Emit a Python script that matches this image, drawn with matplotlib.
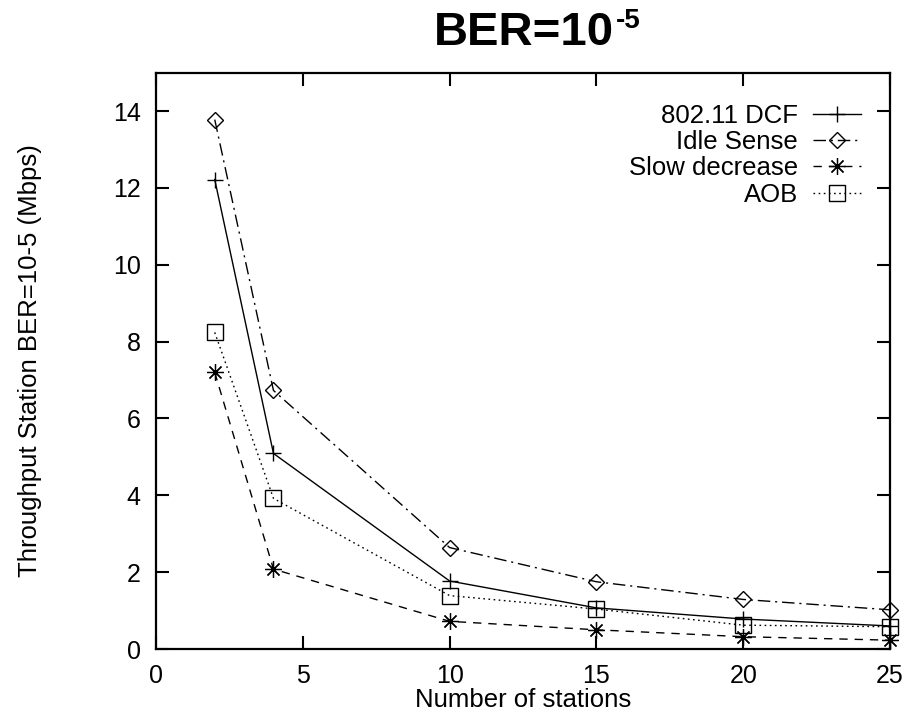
import matplotlib
matplotlib.use('Agg')
import matplotlib.pyplot as plt

# Data
stations = [2, 4, 10, 15, 20, 25]
dcf = [12.22, 5.09, 1.77, 1.07, 0.78, 0.60]
idle_sense = [13.78, 6.73, 2.64, 1.75, 1.29, 1.02]
slow_decrease = [7.20, 2.08, 0.72, 0.50, 0.32, 0.23]
aob = [8.24, 3.92, 1.39, 1.04, 0.62, 0.58]

x_ticks = [0, 5, 10, 15, 20, 25]
y_ticks = [0, 2, 4, 6, 8, 10, 12, 14]

plt.rcParams['font.family'] = ['Liberation Sans', 'DejaVu Sans']

fig = plt.figure(figsize=(9.21, 7.15), dpi=100)
ax = fig.add_axes([0.1694, 0.0923, 0.797, 0.806])

lw = 1.0
ax.plot(stations, dcf, color='black', lw=lw, linestyle='-',
        marker='+', markersize=12, markeredgewidth=1.0, label='802.11 DCF',
        clip_on=False)
ax.plot(stations, idle_sense, color='black', lw=lw, linestyle=(0, (9, 3.5, 1.5, 3.5)),
        marker='D', markersize=8.5, markerfacecolor='none', markeredgewidth=1.0,
        label='Idle Sense', clip_on=False)
ax.plot(stations, slow_decrease, color='black', lw=lw, linestyle=(0, (6, 5)),
        marker=(8, 2, 0), markersize=12, markeredgewidth=0.9, label='Slow decrease',
        clip_on=False)
ax.plot(stations, aob, color='black', lw=lw, linestyle=(0, (1.2, 2.5)),
        marker='s', markersize=11, markerfacecolor='none', markeredgewidth=1.0,
        label='AOB', clip_on=False)

ax.set_xlim(0, 25)
ax.set_ylim(0, 15)
ax.set_xticks(x_ticks)
ax.set_yticks(y_ticks)
ax.tick_params(direction='in', length=9.5, width=1.5, labelsize=18, pad=11,
               top=True, right=True)
for side in ax.spines.values():
    side.set_linewidth(1.6)

ax.set_xlabel('Number of stations', fontsize=18.5, labelpad=0)
ax.set_ylabel('Throughput Station BER=10-5 (Mbps)', fontsize=18.5)
ax.yaxis.set_label_coords(-0.155, 0.5)

# title with a plain-hyphen superscript, as in the original
main = fig.text(434 / 921, 1 - 45 / 715, 'BER=10', fontsize=34, fontweight='bold',
                ha='left', va='baseline')
ax.annotate('-5', xy=(1, 1), xycoords=main, xytext=(1, 2), textcoords='offset points',
            fontsize=20, fontweight='bold', ha='left', va='top')

ax.legend(loc='upper right', frameon=False, markerfirst=False, fontsize=18.5,
          handlelength=1.85, handletextpad=0.6, labelspacing=0.09,
          borderaxespad=0, borderpad=0, bbox_to_anchor=(0.96, 0.946))

fig.savefig('out.png', dpi=100)
